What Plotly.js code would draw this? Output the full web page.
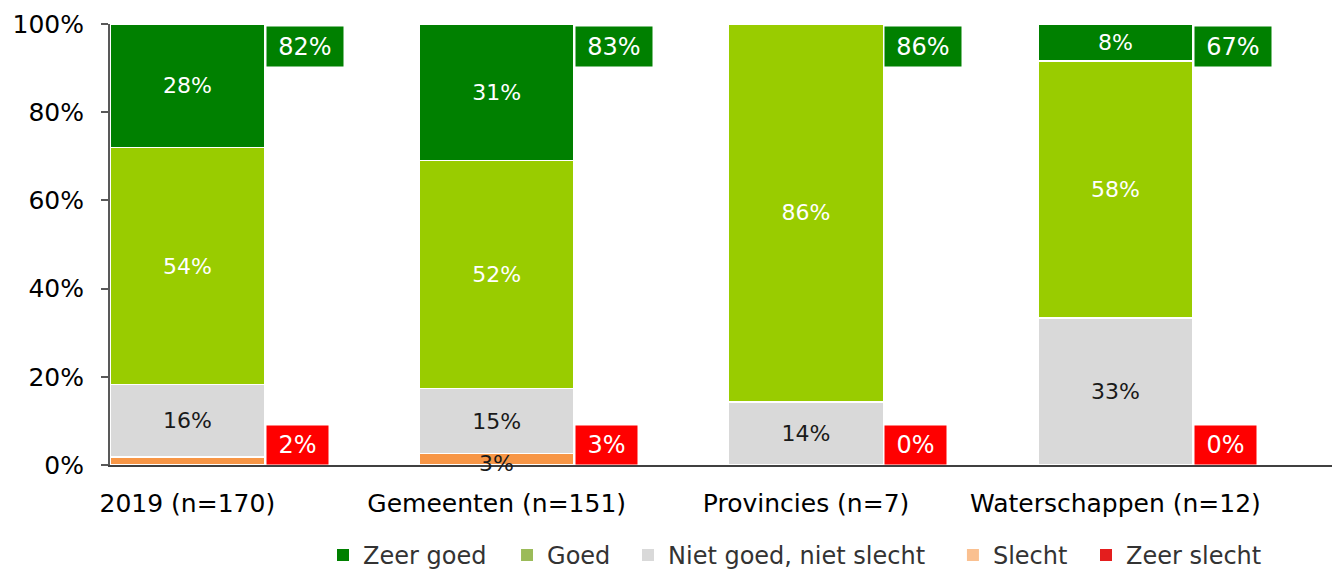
<!DOCTYPE html>
<html>
<head>
<meta charset="utf-8">
<script src="https://cdn.plot.ly/plotly-3.0.1.min.js"></script>
<style>
html,body{margin:0;padding:0;background:#fff;}
#chart{width:1332px;height:570px;}
</style>
</head>
<body>
<div id="chart"></div>
<script>
// ---- data ----
var categories = ['2019 (n=170)', 'Gemeenten (n=151)', 'Provincies (n=7)', 'Waterschappen (n=12)'];
var zeerSlecht = [0, 0, 0, 0];
var slecht     = [1.8, 2.6, 0, 0];
var nietGoed   = [16.4, 14.7, 14.3, 33.3];
var goed       = [53.8, 51.7, 85.7, 58.3];
var zeerGoed   = [28.0, 31.0, 0, 8.4];
var slechtLabels = ['', '3%', '', ''];
var positiefTotaal = ['82%', '83%', '86%', '67%'];
var negatiefTotaal = ['2%', '3%', '0%', '0%'];
var seriesNames = ['Zeer goed', 'Goed', 'Niet goed, niet slecht', 'Slecht', 'Zeer slecht'];
var yTickValues = [0, 20, 40, 60, 80, 100];
var yTickLabels = ['0%', '20%', '40%', '60%', '80%', '100%'];

// ---- styling ----
var FONT = 'DejaVu Sans, Verdana, sans-serif';
var barColors = {zs: '#FF0000', s: '#F79646', n: '#D9D9D9', g: '#99CC00', zg: '#008000'};
var legendColors = ['#008000', '#9BBB59', '#D9D9D9', '#FAC090', '#E41E1E'];
var legendX = [0.1743, 0.3249, 0.4239, 0.6898, 0.7987];

function labels(vals) {
  return vals.map(function (v) { return v >= 5 ? Math.round(v) + '%' : ''; });
}
function barTrace(name, vals, color, textColor, txt) {
  return {
    type: 'bar', x: categories, y: vals, name: name, showlegend: false,
    marker: {color: color, line: {color: '#ffffff', width: 1.5}},
    text: txt, texttemplate: '%{text}', textposition: 'inside', insidetextanchor: 'middle',
    textfont: {family: FONT, size: 22, color: textColor},
    constraintext: 'none', hoverinfo: 'skip'
  };
}

var traces = [
  barTrace(seriesNames[4], zeerSlecht, barColors.zs, '#ffffff', ['', '', '', '']),
  barTrace(seriesNames[3], slecht, barColors.s, '#1a1a1a', ['', '', '', '']),
  barTrace(seriesNames[2], nietGoed, barColors.n, '#1a1a1a', labels(nietGoed)),
  barTrace(seriesNames[1], goed, barColors.g, '#ffffff', labels(goed)),
  barTrace(seriesNames[0], zeerGoed, barColors.zg, '#ffffff', labels(zeerGoed))
];

var layout = {
  width: 1332, height: 570,
  margin: {l: 110, r: 0, t: 24, b: 105, pad: 0, autoexpand: false},
  paper_bgcolor: '#ffffff', plot_bgcolor: '#ffffff',
  barmode: 'stack', bargap: 0.5,
  font: {family: FONT, size: 24, color: '#000000'},
  xaxis: {
    type: 'category', range: [-0.25, 3.7], showgrid: false, zeroline: false,
    showline: true, linecolor: '#404040', linewidth: 2, ticks: '',
    tickfont: {family: FONT, size: 25, color: '#000000'}, ticklabelstandoff: 15,
    fixedrange: true, automargin: false
  },
  yaxis: {
    range: [0, 100], tickmode: 'array', tickvals: yTickValues, ticktext: yTickLabels,
    showgrid: false, zeroline: false, showline: true, linecolor: '#595959', linewidth: 2,
    ticks: 'outside', ticklen: 7, tickwidth: 2, tickcolor: '#595959',
    tickfont: {family: FONT, size: 25, color: '#000000'}, ticklabelstandoff: 12,
    fixedrange: true, automargin: false
  },
  showlegend: true
};

// one legend per entry so each can sit where the reference puts it
seriesNames.forEach(function (n, i) {
  var key = i === 0 ? 'legend' : 'legend' + (i + 1);
  traces.push({type: 'bar', x: [categories[0]], y: [null], name: n, showlegend: true,
    legend: key, marker: {color: legendColors[i], line: {width: 0}}, hoverinfo: 'skip'});
  layout[key] = {
    orientation: 'h', x: legendX[i], xanchor: 'left', y: -0.205, yanchor: 'middle',
    font: {family: FONT, size: 24, color: '#333333'}, itemwidth: 30,
    bgcolor: 'rgba(0,0,0,0)', borderwidth: 0
  };
});

var annotations = [];
categories.forEach(function (c, i) {
  annotations.push({
    x: i + 0.25, y: 100, xref: 'x', yref: 'y', xanchor: 'left', yanchor: 'top',
    xshift: 1, yshift: -2, text: positiefTotaal[i], showarrow: false,
    bgcolor: '#008000', width: 74, height: 37, align: 'center', valign: 'middle',
    font: {family: FONT, size: 24, color: '#ffffff'}
  });
  annotations.push({
    x: i + 0.25, y: 0, xref: 'x', yref: 'y', xanchor: 'left', yanchor: 'bottom',
    xshift: 1, yshift: 0, text: negatiefTotaal[i], showarrow: false,
    bgcolor: '#FF0000', width: 59, height: 36, align: 'center', valign: 'middle',
    font: {family: FONT, size: 24, color: '#ffffff'}
  });
  if (slechtLabels[i]) {
    annotations.push({
      x: i, y: 0, xref: 'x', yref: 'y', xanchor: 'center', yanchor: 'middle',
      yshift: 2, text: slechtLabels[i], showarrow: false,
      font: {family: FONT, size: 22, color: '#1a1a1a'}
    });
  }
});
layout.annotations = annotations;

Plotly.newPlot('chart', traces, layout, {displayModeBar: false, staticPlot: true});
</script>
</body>
</html>
